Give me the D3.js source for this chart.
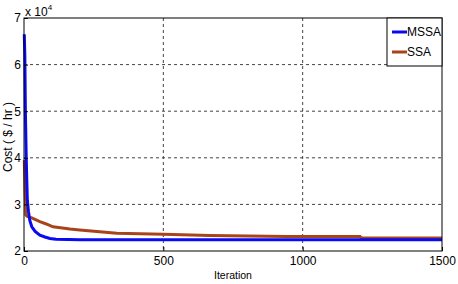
<!DOCTYPE html>
<html>
<head>
<meta charset="utf-8">
<script src="https://cdn.jsdelivr.net/npm/d3@7"></script>
<style>
  body { margin: 0; background: #fff; }
  text { font-family: "Liberation Sans", Arial, sans-serif; }
</style>
</head>
<body>
<div id="chart"></div>
<script>
// data (cost in units of 10^4)
var mssa_iter = [1, 3, 5, 8, 10, 12, 16, 21, 28, 40, 57, 75, 93, 115, 200, 1500];
var mssa_cost = [6.65, 6.2, 5.0, 4.0, 3.52, 3.09, 2.85, 2.65, 2.52, 2.42, 2.34, 2.3, 2.27, 2.25, 2.24, 2.24];
var ssa_iter = [1, 4, 7, 12, 28, 57, 80, 104, 165, 200, 333, 500, 667, 943, 1206, 1210, 1500];
var ssa_cost = [3.95, 3.31, 2.77, 2.74, 2.71, 2.63, 2.58, 2.52, 2.47, 2.45, 2.38, 2.36, 2.33, 2.31, 2.31, 2.28, 2.28];
var series_names = ['MSSA', 'SSA'];
var series_colors = ['#0a0af0', '#a8441c'];
var x_ticks = [0, 500, 1000, 1500];
var y_ticks = [2, 3, 4, 5, 6, 7];

var width = 458, height = 284;
var plot_left = 24, plot_right = 442, plot_top = 18, plot_bottom = 251;

var svg = d3.select('#chart')
            .append('svg')
            .attr('width', width)
            .attr('height', height);

var scale_x = d3.scaleLinear().domain([0, 1500]).range([plot_left, plot_right]);
var scale_y = d3.scaleLinear().domain([2, 7]).range([plot_bottom, plot_top]);

// grid
svg.append('g')
   .selectAll('line')
   .data(x_ticks.slice(1, -1))
   .enter()
   .append('line')
   .attr('x1', function(d){ return scale_x(d); })
   .attr('x2', function(d){ return scale_x(d); })
   .attr('y1', plot_top)
   .attr('y2', plot_bottom)
   .attr('stroke', '#444')
   .attr('stroke-dasharray', '3,3');
svg.append('g')
   .selectAll('line')
   .data(y_ticks.slice(1, -1))
   .enter()
   .append('line')
   .attr('y1', function(d){ return scale_y(d); })
   .attr('y2', function(d){ return scale_y(d); })
   .attr('x1', plot_left)
   .attr('x2', plot_right)
   .attr('stroke', '#444')
   .attr('stroke-dasharray', '3,3');

// lines
var series = [
  d3.zip(mssa_iter, mssa_cost),
  d3.zip(ssa_iter, ssa_cost)
];
var line = d3.line()
             .x(function(d){ return scale_x(d[0]); })
             .y(function(d){ return scale_y(d[1]); });

// SSA drawn first, MSSA on top
[1, 0].forEach(function(i){
  svg.append('path')
     .attr('d', line(series[i]))
     .attr('fill', 'none')
     .attr('stroke', series_colors[i])
     .attr('stroke-width', 3);
});

// axes with inward ticks
var axis_bottom = d3.axisBottom(scale_x).tickValues(x_ticks).tickFormat(d3.format('d'))
                    .tickSizeInner(-4).tickSizeOuter(0).tickPadding(7);
var axis_left = d3.axisLeft(scale_y).tickValues(y_ticks).tickFormat(d3.format('d'))
                  .tickSizeInner(-4).tickSizeOuter(0).tickPadding(7);
var gx = svg.append('g').attr('transform', 'translate(0,' + plot_bottom + ')').call(axis_bottom);
var gy = svg.append('g').attr('transform', 'translate(' + plot_left + ',0)').call(axis_left);
[gx, gy].forEach(function(g){
  g.select('.domain').remove();
  g.selectAll('text').attr('font-size', 12).attr('fill', '#000')
   .attr('font-family', '"Liberation Sans", Arial, sans-serif');
});
gx.selectAll('text').attr('dy', '0.6em');
gy.selectAll('text').attr('dx', '4px');

// box
svg.append('rect')
   .attr('x', plot_left)
   .attr('y', plot_top)
   .attr('width', plot_right - plot_left)
   .attr('height', plot_bottom - plot_top)
   .attr('fill', 'none')
   .attr('stroke', '#000');

// exponent
var exp = svg.append('text').attr('x', 25).attr('y', 16).attr('font-size', 12);
exp.append('tspan').text('x 10');
exp.append('tspan').text('4').attr('font-size', 8).attr('dy', -6);

// axis labels
svg.append('text')
   .text('Cost ( $ / hr )')
   .attr('transform', 'translate(12,137) rotate(-90)')
   .attr('text-anchor', 'middle')
   .attr('font-size', 12);
svg.append('text')
   .text('Iteration')
   .attr('x', (plot_left + plot_right) / 2)
   .attr('y', 279)
   .attr('text-anchor', 'middle')
   .attr('font-size', 10.5);

// legend
var legend = svg.append('g');
legend.append('rect')
   .attr('x', 387)
   .attr('y', plot_top)
   .attr('width', plot_right - 387)
   .attr('height', 48)
   .attr('fill', '#fff')
   .attr('stroke', '#000');
series_names.forEach(function(name, i){
  var ly = 32 + i * 20;
  legend.append('line')
        .attr('x1', 392).attr('x2', 407)
        .attr('y1', ly).attr('y2', ly)
        .attr('stroke', series_colors[i])
        .attr('stroke-width', 3);
  legend.append('text')
        .text(name)
        .attr('x', 407)
        .attr('y', ly + 4)
        .attr('font-size', 12);
});
</script>
</body>
</html>
